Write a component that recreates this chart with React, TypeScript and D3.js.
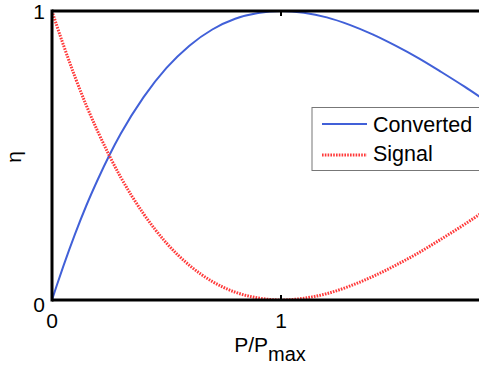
import React from "react";
import * as d3 from "d3";

const xValues = [0, 0.01, 0.02, 0.05, 0.1, 0.15, 0.2, 0.25, 0.3, 0.4, 0.5, 0.6, 0.7, 0.8, 0.9, 1.0, 1.1, 1.2, 1.3, 1.4, 1.5, 1.6, 1.7, 1.8, 1.9, 2.0];
const converted = [0, 0.0245, 0.0485, 0.118, 0.227, 0.327, 0.417, 0.5, 0.575, 0.702, 0.803, 0.880, 0.936, 0.973, 0.993, 1.0, 0.994, 0.978, 0.952, 0.919, 0.880, 0.837, 0.789, 0.739, 0.686, 0.633];
const signal = [1, 0.9755, 0.9515, 0.882, 0.773, 0.673, 0.583, 0.5, 0.425, 0.298, 0.197, 0.120, 0.064, 0.027, 0.007, 0.0, 0.006, 0.022, 0.048, 0.081, 0.120, 0.163, 0.211, 0.261, 0.314, 0.367];
const xTicks = [0, 1];
const yTicks = [0, 1];
const seriesNames = ["Converted", "Signal"];

export default function App() {
  const W = 479, H = 371;
  const x = d3.scaleLinear().domain([0, 2]).range([52, 510]);
  const y = d3.scaleLinear().domain([0, 1]).range([300, 11]);
  const lineC = d3.line<number>().x((_, i) => x(xValues[i])).y((d) => y(d)).curve(d3.curveMonotoneX);
  const font = "Liberation Sans, Arial, sans-serif";
  return (
    <div style={{ position: "fixed", left: 0, top: 0 }}>
      <svg width={W} height={H} style={{ display: "block", background: "#fff" }}>
        <defs>
          <clipPath id="pc">
            <rect x={52} y={11} width={460} height={289} />
          </clipPath>
        </defs>
        <g clipPath="url(#pc)">
          <path d={lineC(converted) || ""} fill="none" stroke="#4160d8" strokeWidth={2} />
          <path d={lineC(signal) || ""} fill="none" stroke="#ff3a3a" strokeWidth={3} strokeDasharray="1.6,1.2" />
        </g>
        <line x1={52} x2={W} y1={300} y2={300} stroke="#000" strokeWidth={3} />
        <line x1={52} x2={W} y1={11} y2={11} stroke="#000" strokeWidth={3} />
        <line x1={52} x2={52} y1={9.5} y2={301.5} stroke="#000" strokeWidth={3} />
        {xTicks.map((t) => (
          <g key={"xt" + t}>
            <line x1={x(t)} x2={x(t)} y1={300} y2={295} stroke="#000" strokeWidth={2} />
            <line x1={x(t)} x2={x(t)} y1={11} y2={16} stroke="#000" strokeWidth={2} />
            <text x={x(t)} y={328} textAnchor="middle" fontFamily={font} fontSize={21}>{t}</text>
          </g>
        ))}
        {yTicks.map((t) => (
          <text key={"yt" + t} x={45} y={y(t) + (t === 1 ? 8 : 12)} textAnchor="end" fontFamily={font} fontSize={21}>{t}</text>
        ))}
        <text x={270} y={352} textAnchor="middle" fontFamily={font} fontSize={21}>
          P/P<tspan dy={9} fontSize={20}>max</tspan>
        </text>
        <text transform="translate(21,157) rotate(-90)" textAnchor="middle" fontFamily={font} fontSize={21}>η</text>
        <rect x={312} y={107.5} width={180} height={63} fill="#fff" stroke="#777" strokeWidth={1} />
        <line x1={322} x2={367} y1={124} y2={124} stroke="#4160d8" strokeWidth={2} />
        <line x1={322} x2={367} y1={155} y2={155} stroke="#ff3a3a" strokeWidth={3} strokeDasharray="1.6,1.2" />
        <text x={373} y={132} fontFamily={font} fontSize={21.5}>{seriesNames[0]}</text>
        <text x={373} y={161} fontFamily={font} fontSize={21.5}>{seriesNames[1]}</text>
      </svg>
    </div>
  );
}
